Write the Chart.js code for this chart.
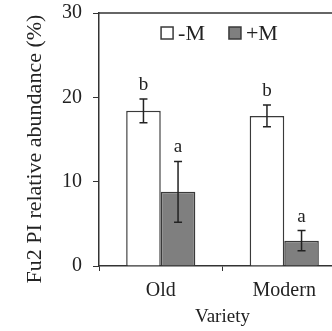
<!DOCTYPE html>
<html>
<head>
<meta charset="utf-8">
<script src="https://cdn.jsdelivr.net/npm/chart.js@4/dist/chart.umd.min.js"></script>
<style>
  html, body { margin: 0; padding: 0; background: #fff; overflow: hidden; }
  #wrap { width: 332px; height: 331px; overflow: hidden; }
</style>
</head>
<body>
<div id="wrap"><canvas id="chart" width="346" height="331"></canvas></div>
<script>
// data
const varieties = ["Old", "Modern"];
const seriesNames = ["-M", "+M"];
const minusM = [18.4, 17.8];
const plusM = [8.8, 3.0];
const minusMErr = [1.4, 1.3];
const plusMErr = [3.6, 1.2];
const minusMLetters = ["b", "b"];
const plusMLetters = ["a", "a"];
const yTicks = [0, 10, 20, 30];

const serif = "'Liberation Serif', 'Times New Roman', serif";
const axisColor = "#333";

const errors = [minusMErr, plusMErr];
const letters = [minusMLetters, plusMLetters];

// error bars, letters, legend, top frame line and y title
const extrasPlugin = {
  id: "extras",
  afterDatasetsDraw(chart) {
    const ctx = chart.ctx;
    const y = chart.scales.y;
    const area = chart.chartArea;
    ctx.save();

    chart.data.datasets.forEach((ds, i) => {
      const meta = chart.getDatasetMeta(i);
      meta.data.forEach((bar, j) => {
        const v = ds.data[j];
        const e = errors[i][j];
        const top = y.getPixelForValue(v + e);
        const bot = y.getPixelForValue(v - e);
        ctx.strokeStyle = "#222";
        ctx.lineWidth = 1.5;
        ctx.beginPath();
        ctx.moveTo(bar.x, top);
        ctx.lineTo(bar.x, bot);
        ctx.moveTo(bar.x - 4, top);
        ctx.lineTo(bar.x + 4, top);
        ctx.moveTo(bar.x - 4, bot);
        ctx.lineTo(bar.x + 4, bot);
        ctx.stroke();

        ctx.fillStyle = "#222";
        ctx.font = "19px " + serif;
        ctx.textAlign = "center";
        ctx.textBaseline = "alphabetic";
        ctx.fillText(letters[i][j], bar.x, top - 9);
      });
    });

    // legend inside the plot, centred
    ctx.font = "22px " + serif;
    const box = 12, gap = 5, spacing = 24;
    const widths = chart.data.datasets.map((ds) => box + gap + ctx.measureText(ds.label).width);
    const total = widths.reduce((a, b) => a + b, 0) + spacing * (widths.length - 1);
    let lx = (area.left + area.right) / 2 - 3 - total / 2;
    const ly = area.top + 20;
    chart.data.datasets.forEach((ds, i) => {
      ctx.fillStyle = ds.backgroundColor;
      ctx.fillRect(lx, ly - box / 2, box, box);
      ctx.strokeStyle = ds.borderColor;
      ctx.lineWidth = 1.5;
      ctx.strokeRect(lx, ly - box / 2, box, box);
      ctx.fillStyle = "#222";
      ctx.textAlign = "left";
      ctx.textBaseline = "middle";
      ctx.fillText(ds.label, lx + box + gap, ly + 1);
      lx += widths[i] + spacing;
    });

    // top frame line
    ctx.strokeStyle = axisColor;
    ctx.lineWidth = 1.5;
    ctx.beginPath();
    ctx.moveTo(area.left, area.top);
    ctx.lineTo(area.right, area.top);
    ctx.stroke();

    // y axis title
    ctx.translate(35, 149);
    ctx.rotate(-Math.PI / 2);
    ctx.fillStyle = "#222";
    ctx.font = "22px " + serif;
    ctx.textAlign = "center";
    ctx.textBaseline = "middle";
    ctx.fillText("Fu2 PI relative abundance (%)", 0, 0);
    ctx.restore();
  },
};

const ctx = document.getElementById("chart").getContext("2d");

new Chart(ctx, {
  type: "bar",
  data: {
    labels: varieties,
    datasets: [
      {
        label: seriesNames[0],
        data: minusM,
        backgroundColor: "#ffffff",
        borderColor: "#3a3a3a",
        borderWidth: 1.5,
        categoryPercentage: 0.56,
        barPercentage: 1,
      },
      {
        label: seriesNames[1],
        data: plusM,
        backgroundColor: "#7f7f7f",
        borderColor: "#3a3a3a",
        borderWidth: 1.5,
        categoryPercentage: 0.56,
        barPercentage: 1,
      },
    ],
  },
  options: {
    responsive: false,
    animation: false,
    layout: { padding: { top: 13, left: 0, right: 0, bottom: 0 } },
    scales: {
      x: {
        grid: {
          display: true,
          drawOnChartArea: false,
          drawTicks: true,
          tickLength: 5,
          color: axisColor,
          offset: true,
        },
        border: { display: true, color: axisColor, width: 1.5 },
        ticks: {
          color: "#222",
          padding: 8,
          font: { family: serif, size: 20 },
        },
        title: {
          display: true,
          text: "Variety",
          color: "#222",
          padding: { top: 3, bottom: 3 },
          font: { family: serif, size: 19 },
        },
        afterFit(scale) {
          scale.height = 65;
          scale.paddingLeft = 0;
          scale.paddingRight = 0;
        },
      },
      y: {
        min: 0,
        max: 30,
        afterBuildTicks(scale) {
          scale.ticks = yTicks.map((v) => ({ value: v }));
        },
        grid: {
          display: true,
          drawOnChartArea: false,
          drawTicks: true,
          tickLength: 6,
          color: axisColor,
        },
        border: { display: true, color: axisColor, width: 1.5 },
        ticks: {
          color: "#222",
          padding: 11,
          font: { family: serif, size: 20 },
        },
        afterFit(scale) {
          scale.width = 99;
          scale.paddingTop = 0;
          scale.paddingBottom = 0;
        },
      },
    },
    plugins: {
      legend: { display: false },
      tooltip: { enabled: false },
    },
  },
  plugins: [extrasPlugin],
});
</script>
</body>
</html>
